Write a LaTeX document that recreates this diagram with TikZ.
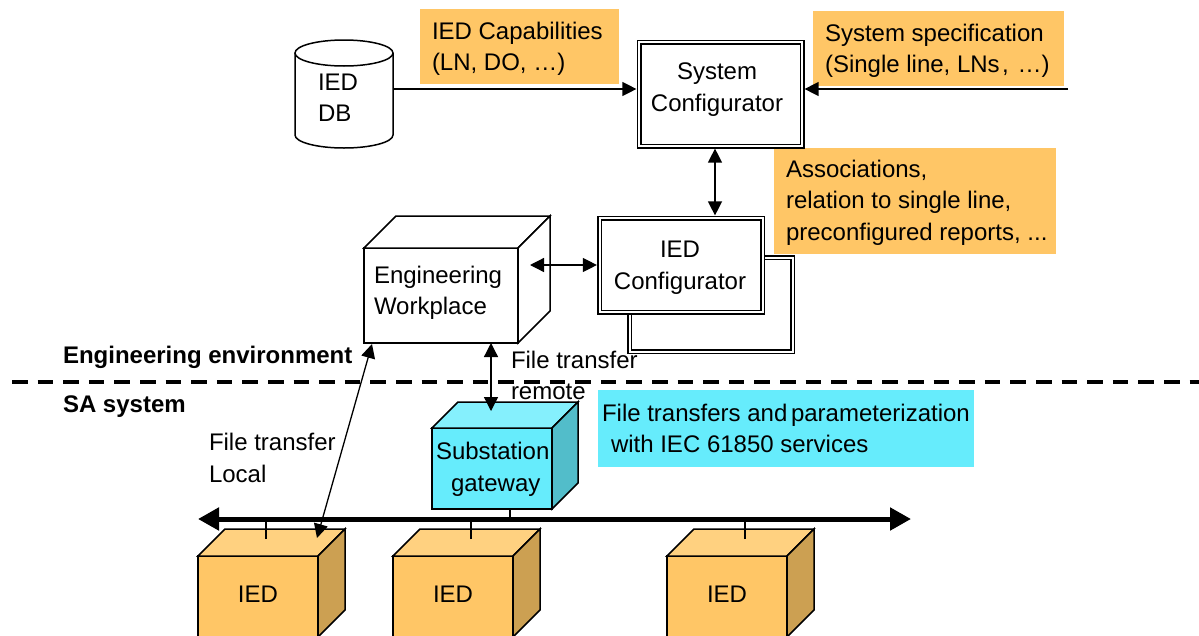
\documentclass[tikz,border=0pt]{standalone}
\usepackage{fontspec}
\setmainfont{Liberation Sans}
\usetikzlibrary{arrows.meta}
\definecolor{org}{HTML}{FFC666}
\definecolor{orgtop}{HTML}{FFD180}
\definecolor{orgside}{HTML}{CCA052}
\definecolor{cya}{HTML}{66ECFC}
\definecolor{cyatop}{HTML}{85F0FD}
\definecolor{cyaside}{HTML}{52BDCA}
\tikzset{
  txt/.style={inner sep=0pt,outer sep=0pt,anchor=north west,align=left,font=\fontsize{24}{31.5}\selectfont},
  ctxt/.style={txt,anchor=north,align=center},
  btxt/.style={inner sep=0pt,outer sep=0pt,anchor=base west,font=\fontsize{24}{31}\selectfont\bfseries},
  note/.style={inner sep=0pt,outer sep=0pt,anchor=north west},
  dbl/.style={draw=black,fill=white,line width=1.5pt,double=white,double distance=2pt,inner sep=0pt,outer sep=2.6pt},
  face/.style={draw=black,line width=1.5pt,line join=miter,inner sep=0pt,outer sep=0pt},
  thinl/.style={line width=1.3pt,draw=black},
  arr/.style={thinl,-{Triangle[length=14pt,width=14pt]}},
  arrs/.style={thinl,{Triangle[length=14pt,width=14pt]}-{Triangle[length=14pt,width=14pt]}},
  busl/.style={line width=5pt,{Triangle[length=21pt,width=22pt]}-{Triangle[length=21pt,width=22pt]}},
}
\newcommand{\cubesides}[5]{%
  \draw[line width=1.5pt,line join=miter,fill=#4] (#1.north west) -- ++(#2,-#3) -- ([shift={(#2,-#3)}]#1.north east) -- (#1.north east) -- cycle;
  \draw[line width=1.5pt,line join=miter,fill=#5] (#1.north east) -- ++(#2,-#3) -- ([shift={(#2,-#3)}]#1.south east) -- (#1.south east) -- cycle;
}
\begin{document}
\begin{tikzpicture}[x=1pt,y=-1pt]
\useasboundingbox (0,0) rectangle (1199,635);
\clip (0,0) rectangle (1199,635);
% orange and cyan notes
\node[note,fill=org,minimum width=199pt,minimum height=75pt] (n1) at (420,9) {};
\node[note,fill=org,minimum width=251pt,minimum height=75pt] (n2) at (813,11) {};
\node[note,fill=org,minimum width=282pt,minimum height=106pt] (n3) at (774,148) {};
\node[note,fill=cya,minimum width=376pt,minimum height=77pt] (n4) at (598,390) {};
\node[txt] (t1) at (432,17) {\strut IED Capabilities\\\strut(LN, DO, …)};
\node[txt] (t2) at (825,19) {\strut System specification\\\strut(Single line, LNs\hspace{2.5pt},\hspace{2pt} …)};
\node[txt] (t3) at (786,155) {\strut Associations,\\\strut relation to single line,\\\strut preconfigured reports, ...};
\node[txt] (t4) at (602,399) {\strut File transfers and\hspace{-3pt} parameterization\\\strut\hspace*{9pt}with IEC 61850 services};
% database
\coordinate (dbout) at (393,89);
\draw[line width=1.5pt,fill=white] (295,53) -- (295,135) arc[start angle=180,end angle=360,x radius=49,y radius=-13] -- (393,53);
\draw[line width=1.5pt,fill=white] (344,53) ellipse[x radius=49,y radius=13];
\node[txt] (dbt) at (318,68) {\strut IED\\\strut DB};
% configurators
\node[dbl,minimum width=163pt,minimum height=104pt] (sys) at (720.5,94) {};
\node[ctxt] (syst) at (717,57) {\strut System\\[0.7pt]\strut Configurator};
\node[dbl,minimum width=163pt,minimum height=94pt] (back) at (711,304.5) {};
\node[dbl,minimum width=163pt,minimum height=94pt] (ied) at (681,265) {};
\node[ctxt] (iedt) at (680,235) {\strut IED\\[0.7pt]\strut Configurator};
% cuboids
\node[face,fill=white,minimum width=154pt,minimum height=95pt] (eng) at (441,295.5) {};
\cubesides{eng}{32}{32}{white}{white}
\node[txt] (engt) at (374,261) {\strut Engineering\\\strut Workplace};
\node[face,fill=cya,minimum width=120pt,minimum height=81pt] (gw) at (492,468.5) {};
\cubesides{gw}{26}{26}{cyatop}{cyaside}
\node[txt] (gwt) at (436,437.5) {\strut Substation\\\strut\hspace*{15pt}gateway};
\node[face,fill=org,minimum width=120pt,minimum height=81pt] (i1) at (258,596.5) {};
\cubesides{i1}{27}{27}{orgtop}{orgside}
\node[face,fill=org,minimum width=120pt,minimum height=81pt] (i2) at (453,596.5) {};
\cubesides{i2}{27}{27}{orgtop}{orgside}
\node[face,fill=org,minimum width=120pt,minimum height=81pt] (i3) at (727,596.5) {};
\cubesides{i3}{27}{27}{orgtop}{orgside}
\node[ctxt] at (i1 |- 0,580) (i1t) {\strut IED};
\node[ctxt] at (i2 |- 0,580) (i2t) {\strut IED};
\node[ctxt] at (i3 |- 0,580) (i3t) {\strut IED};
% separator
\coordinate (sepl) at (12,382);
\coordinate (sepr) at (1199,382);
\draw[line width=4pt,dash pattern=on 15.5pt off 10.1pt] (sepl) -- (sepr);
\node[btxt] (env) at (63,363) {Engineering environment};
\node[btxt] (sa) at (63,412) {SA system};
% labels
\node[txt] (ftr) at (511,346) {\strut File transfer\\\strut remote};
\node[txt] (ftl) at (209,428.5) {\strut File transfer\\\strut Local};
% bus
\coordinate (busl) at (198,519);
\coordinate (busr) at (911,519);
\draw[thinl] (510,509) -- (510,519);
\draw[busl] (busl) -- (busr);
\coordinate (s1) at (266,539);
\coordinate (s2) at (471,539);
\coordinate (s3) at (745,539);
\draw[thinl] (s1) -- (s1 |- busl);
\draw[thinl] (s2) -- (s2 |- busl);
\draw[thinl] (s3) -- (s3 |- busl);
% connectors
\coordinate (sysin) at (1068,89);
\coordinate (a1) at (715,180);
\coordinate (a2) at (530,265);
\coordinate (a3) at (491,411);
\coordinate (a4a) at (372,344);
\coordinate (a4b) at (317,538);
\draw[arr] (dbout) -- (dbout -| sys.west);
\draw[arr] (sysin) -- (sysin -| sys.east);
\draw[arrs] (a1 |- sys.south) -- (a1 |- ied.north);
\draw[arrs] (a2) -- (a2 -| ied.west);
\draw[arrs] (a3 |- eng.south) -- (a3);
\draw[arrs] (a4a) -- (a4b);
\end{tikzpicture}
\end{document}
